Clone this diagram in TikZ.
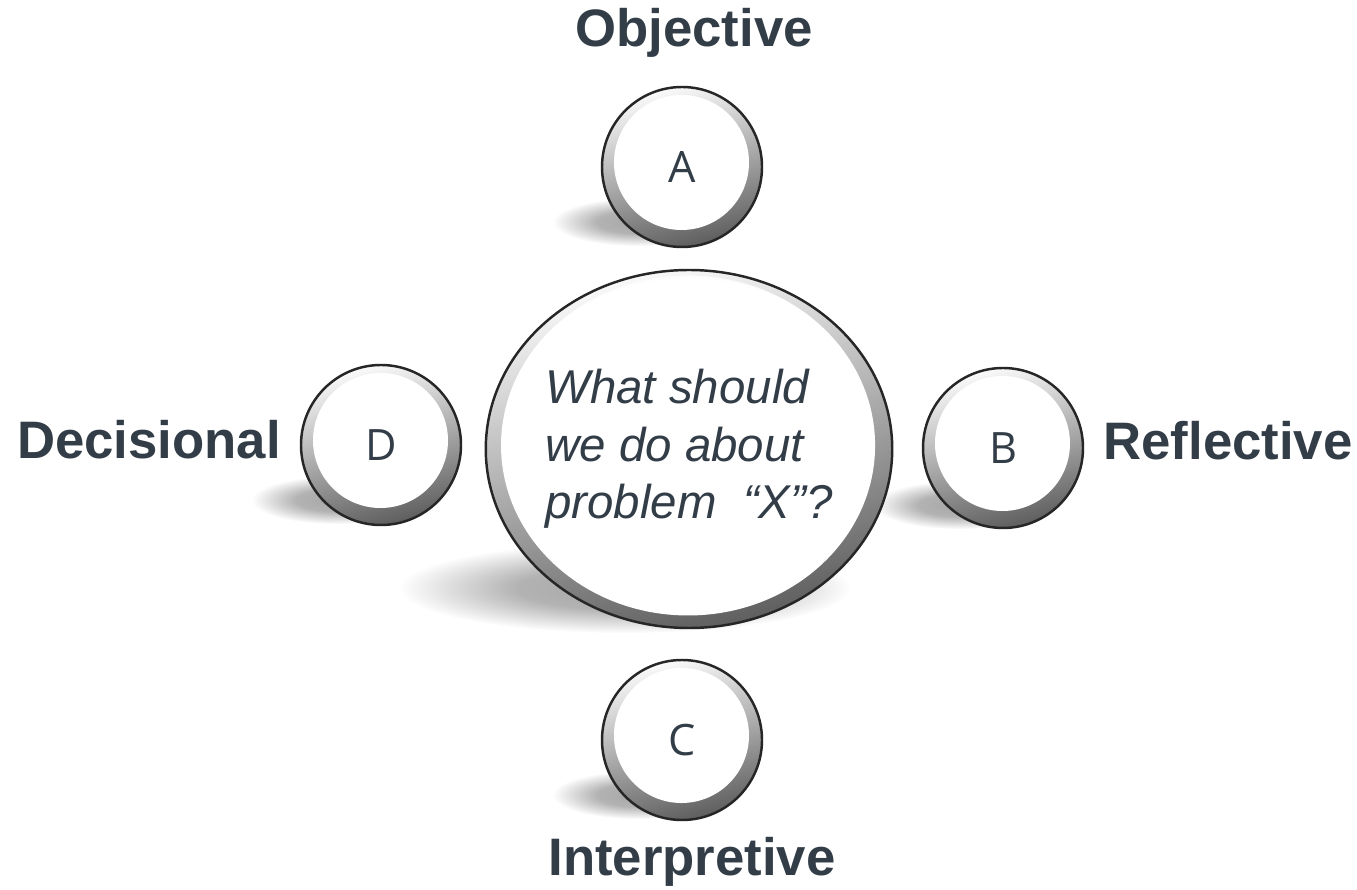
\documentclass[tikz,border=0pt]{standalone}
\usepackage{fontspec}
\setmainfont{Liberation Sans}
\newfontfamily\letterfont{Open Sans}
\usetikzlibrary{fadings,shapes.geometric,shadings}

\definecolor{inkslate}{HTML}{323D48}
\definecolor{rimedge}{HTML}{262626}
\definecolor{rimlight}{HTML}{FAFAFA}
\definecolor{rimmid}{HTML}{B4B4B4}
\definecolor{rimdark}{HTML}{5E5E5E}
\definecolor{shadowgray}{HTML}{A6A6A6}

% white face of a button: opaque core, soft edge towards the rim
\pgfdeclareradialshading{facefadeshade}{\pgfpointorigin}{%
  color(0bp)=(pgftransparent!0); color(22.8bp)=(pgftransparent!0);
  color(25bp)=(pgftransparent!100); color(50bp)=(pgftransparent!100)}
\pgfdeclarefading{facefade}{\pgfuseshading{facefadeshade}}
% same, with a narrower soft band for the large button
\pgfdeclareradialshading{bigfacefadeshade}{\pgfpointorigin}{%
  color(0bp)=(pgftransparent!0); color(23.8bp)=(pgftransparent!0);
  color(25bp)=(pgftransparent!100); color(50bp)=(pgftransparent!100)}
\pgfdeclarefading{bigfacefade}{\pgfuseshading{bigfacefadeshade}}
% drop shadow: flat core fading out to the ellipse edge
\pgfdeclareradialshading{dropfadeshade}{\pgfpointorigin}{%
  color(0bp)=(pgftransparent!0); color(12bp)=(pgftransparent!15);
  color(25bp)=(pgftransparent!100); color(50bp)=(pgftransparent!100)}
\pgfdeclarefading{dropfade}{\pgfuseshading{dropfadeshade}}

\tikzset{
  rim/.style={draw=rimedge, line width=0.7pt,
    top color=rimlight, middle color=rimmid, bottom color=rimdark, shading angle=15},
  button/.style={circle, minimum size=1.6cm, inner sep=0pt, rim,
    path picture={\fill[white, path fading=facefade]
      ([shift={(-0.005,0.045)}]path picture bounding box.center) circle (0.675);},
    text=inkslate, font=\letterfont\fontsize{12.3}{14}\selectfont},
  bigbutton/.style={ellipse, minimum width=3.94cm, minimum height=3.58cm, inner sep=0pt, rim,
    path picture={\fill[white, path fading=bigfacefade]
      ([shift={(-0.01,0.035)}]path picture bounding box.center) ellipse (1.87 and 1.70);},
    text=inkslate, align=left,
    font=\itshape\fontsize{13.5}{16.3}\selectfont},
  dropshadow/.style={fill=shadowgray, path fading=dropfade},
  caption/.style={anchor=base, inner sep=0pt, text=inkslate,
    font=\bfseries\fontsize{15}{18}\selectfont}
}

\begin{document}
\begin{tikzpicture}
  \fill[white] (0,0) rectangle (13.57,8.89);
  \useasboundingbox (0,0) rectangle (13.57,8.89);

  % soft shadows cast down and to the left
  \fill[dropshadow] (6.38,6.67) ellipse (0.85 and 0.24);
  \fill[dropshadow] (9.59,3.84) ellipse (0.85 and 0.24);
  \fill[dropshadow] (6.38,0.94) ellipse (0.85 and 0.24);
  \fill[dropshadow] (3.37,3.89) ellipse (0.85 and 0.24);
  \fill[dropshadow] (6.25,3.01) ellipse (2.25 and 0.45);

  % central question
  \node[bigbutton] (question) at (6.89,4.40)
    {What should\\we do about\\problem \ “X”?};

  % the four perspectives
  \node[button] (btnA) at (6.82,7.22) {A};
  \node[button] (btnB) at (10.03,4.41) {B};
  \node[button] (btnC) at (6.82,1.49) {C};
  \node[button] (btnD) at (3.81,4.44) {D};

  % captions
  \node[caption] (capA) at (6.94,8.42) {Objective};
  \node[caption] (capB) at (12.28,4.29) {Reflective};
  \node[caption] (capC) at (6.92,0.14) {Interpretive};
  \node[caption] (capD) at (1.49,4.30) {Decisional};
\end{tikzpicture}
\end{document}
